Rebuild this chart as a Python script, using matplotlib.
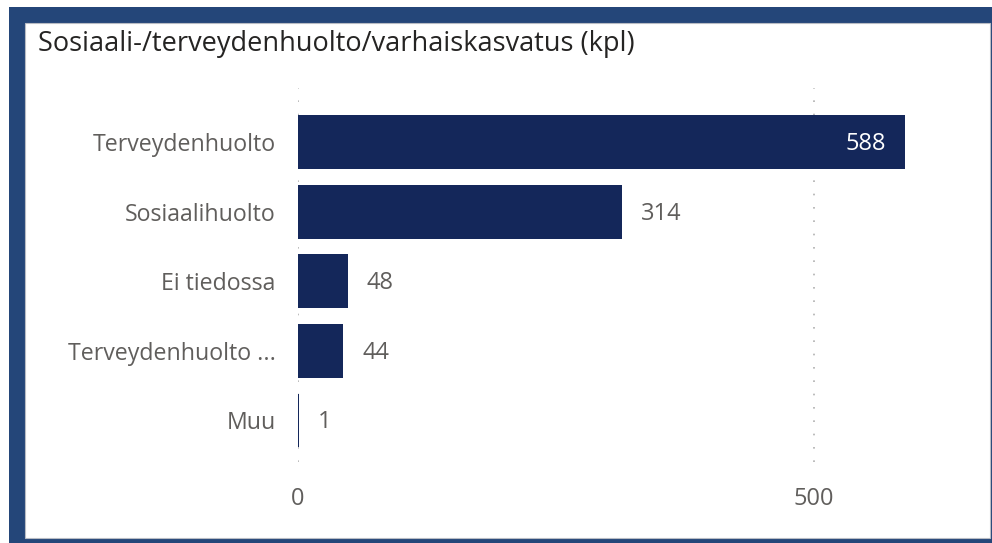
import matplotlib.pyplot as plt
from matplotlib.patches import Rectangle

categories = ["Terveydenhuolto", "Sosiaalihuolto", "Ei tiedossa", "Terveydenhuolto ...", "Muu"]
values = [588, 314, 48, 44, 1]
ticks = [0, 500]

plt.rcParams['font.family'] = ['Open Sans', 'DejaVu Sans']

fig = plt.figure(figsize=(9.92, 5.43), dpi=100)
W, H = 992.0, 543.0

# frame: blue band around white panel
fig.patches.append(Rectangle((9 / W, 0), (W - 9) / W, (H - 7) / H, transform=fig.transFigure,
                             facecolor='#244679', edgecolor='none', zorder=-2))
fig.patches.append(Rectangle((25 / W, 5 / H), (990 - 25) / W, (538 - 23) / H, transform=fig.transFigure,
                             facecolor='white', edgecolor='#b8bcc4', linewidth=0.8, zorder=-1))

fig.text(38 / W, 1 - 44 / H, "Sosiaali-/terveydenhuolto/varhaiskasvatus (kpl)",
         fontsize=19.5, color='#252423', va='center', ha='left')

ax = fig.add_axes([298 / W, 1 - 462 / H, (990 - 298) / W, (462 - 88) / H])
ax.patch.set_alpha(0)

px = 1.032  # pixels per unit
y = list(range(len(categories)))
ax.barh(y, values, height=0.77, color='#14275a', zorder=2)
ax.set_ylim(4.6, -0.78)
ax.set_xlim(0, (990 - 298) / px)

for yi, v in zip(y, values):
    if v > 500:
        ax.text(v - 19 / px, yi + 0.03, str(v), color='white', fontsize=17,
                va='center', ha='right', zorder=3)
    else:
        ax.text(v + 19 / px, yi + 0.03, str(v), color='#605e5c', fontsize=17,
                va='center', ha='left', zorder=3)

ax.set_yticks(y)
ax.set_yticklabels(categories, fontsize=16.7, color='#605e5c')
ax.set_xticks(ticks)
ax.set_xticklabels([str(t) for t in ticks], fontsize=17, color='#605e5c')
ax.tick_params(axis='y', length=0, pad=16)
ax.tick_params(axis='x', length=0, pad=18)
ax.xaxis.grid(True, linestyle=(0, (1, 7)), color='#b0b0b0', linewidth=1.2, zorder=1)
for s in ax.spines.values():
    s.set_visible(False)

fig.savefig('out.png', dpi=100)
